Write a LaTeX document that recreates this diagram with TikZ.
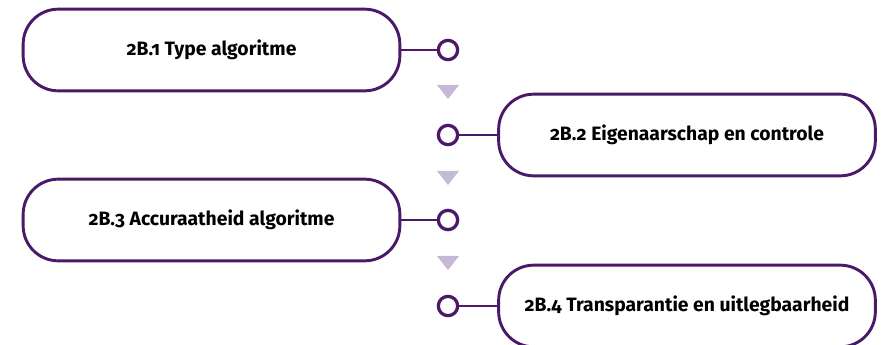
\documentclass[tikz,border=0pt]{standalone}
\usepackage{fontspec}
\setmainfont{Fira Sans}[Numbers=OldStyle]
\usepackage{tikz}

\definecolor{paars}{HTML}{4A1A68}
\definecolor{lila}{HTML}{C6B9D7}

\tikzset{
	stapbox/.style={draw=paars, line width=2.5pt, fill=white, rounded corners=1.05cm,
		minimum width=11.3cm, minimum height=2.45cm, font=\bfseries\fontsize{16.5}{19}\selectfont},
	knoop/.style={circle, draw=paars, line width=2.8pt, fill=white, inner sep=0pt, minimum size=0.58cm},
	verbind/.style={draw=paars, line width=2.2pt},
	pijl/.style={fill=lila, draw=none}
}

\begin{document}
\begin{tikzpicture}[x=0.03cm,y=-0.03cm]
					% Canvas
					\useasboundingbox (0,0) rectangle (884,345);
					
					% Steps
					\node[stapbox] (stap1) at (211.5,50) {2B.1 Type algoritme};
					\node[stapbox] (stap2) at (687,135) {2B.2 Eigenaarschap en controle};
					\node[stapbox] (stap3) at (211.5,220) {2B.3 Accuraatheid algoritme};
					\node[stapbox] (stap4) at (687,306) {2B.4 Transparantie en uitlegbaarheid};
					
					% Small circles on the middle line
					\node[knoop] (knoop1) at (448,50) {};
					\node[knoop] (knoop2) at (448,135) {};
					\node[knoop] (knoop3) at (448,220) {};
					\node[knoop] (knoop4) at (448,306) {};
					
					% Connectors
					\draw[verbind] (stap1) -- (knoop1);
					\draw[verbind] (knoop2) -- (stap2);
					\draw[verbind] (stap3) -- (knoop3);
					\draw[verbind] (knoop4) -- (stap4);
					
					% Triangles between the steps
					\foreach \ty in {85,171,256}
						\fill[pijl] (437,\ty) -- (459,\ty) -- (448,\ty+14) -- cycle;
				\end{tikzpicture}
\end{document}
